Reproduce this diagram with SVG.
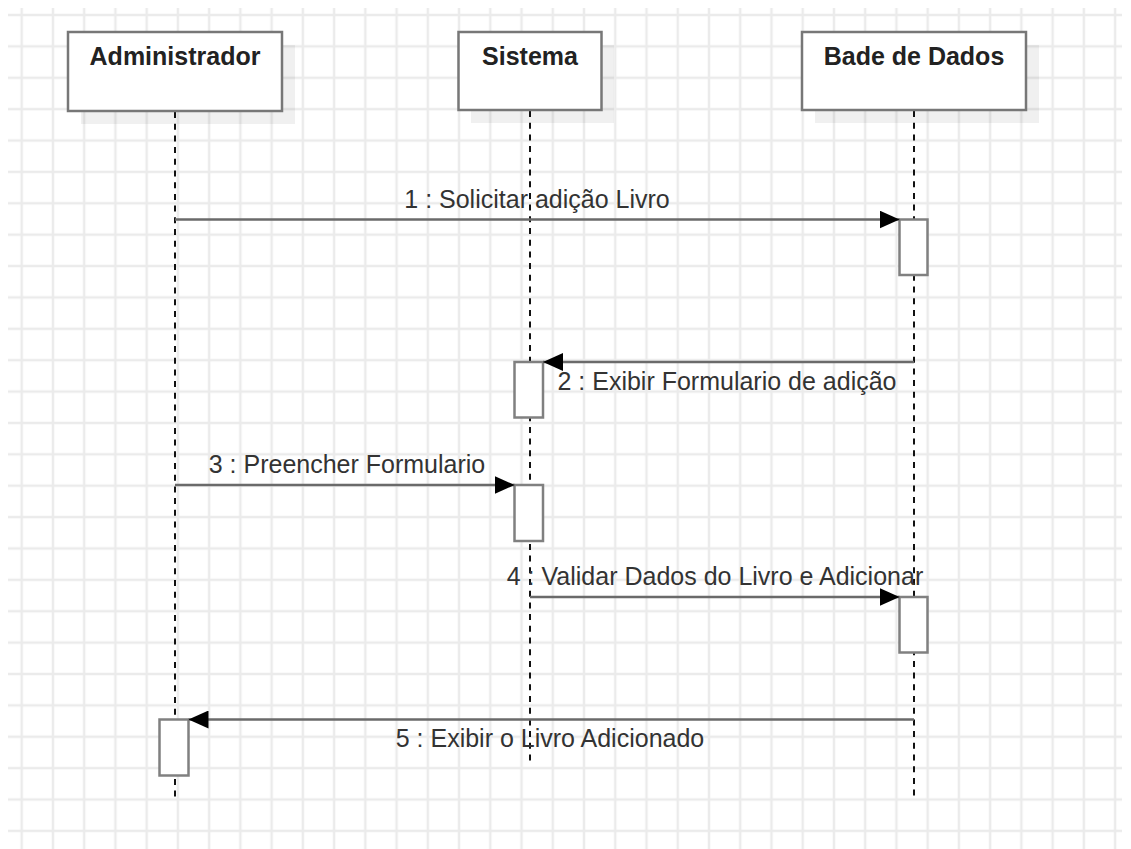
<svg xmlns="http://www.w3.org/2000/svg" width="1131" height="849" viewBox="0 0 1131 849">
  <style>
    .hdr { fill: #ffffff; stroke: #777777; stroke-width: 2.5; }
    .shadow { fill: #000000; fill-opacity: 0.06; }
    .hdrtext { font-family: "Liberation Sans", Arial, sans-serif; font-size: 25px; font-weight: bold; fill: #222222; text-anchor: middle; }
    .life { stroke: #111111; stroke-width: 2; stroke-dasharray: 6 5.7; fill: none; }
    .act { fill: #ffffff; stroke: #808080; stroke-width: 2.5; }
    .msg { stroke: #6a6a6a; stroke-width: 2.5; fill: none; }
    .msgtext { font-family: "Liberation Sans", Arial, sans-serif; font-size: 25px; fill: #333333; text-anchor: middle; }
  </style>
  <defs>
    <pattern id="grid" x="6.08" y="-0.69" width="31.24" height="31.38" patternUnits="userSpaceOnUse">
      <path d="M15.62 0 V31.38 M0 15.69 H31.24" stroke="#ebebeb" stroke-width="2.5" fill="none"/>
    </pattern>
    <marker id="arrow" viewBox="0 0 20 18" refX="20" refY="9" markerWidth="20" markerHeight="18" markerUnits="userSpaceOnUse" orient="auto">
      <path d="M0 0 L20 9 L0 18 Z" fill="#000000"/>
    </marker>
  </defs>
  <rect x="0" y="0" width="1131" height="849" fill="#ffffff"/>
  <rect x="8" y="8" width="1114" height="841" fill="url(#grid)"/>

  <g id="lifelines">
    <line class="life" x1="175" y1="112" x2="175" y2="798"/>
    <line class="life" x1="530" y1="111" x2="530" y2="765"/>
    <line class="life" x1="914" y1="111" x2="914" y2="798"/>
  </g>

  <g id="node-administrador">
    <rect class="shadow" x="81" y="45" width="214" height="79"/>
    <rect class="hdr" x="68" y="32" width="214" height="79"/>
    <text class="hdrtext" x="175" y="65">Administrador</text>
  </g>
  <g id="node-sistema">
    <rect class="shadow" x="471" y="45" width="143" height="78"/>
    <rect class="hdr" x="458.5" y="32" width="143" height="78"/>
    <text class="hdrtext" x="530" y="65">Sistema</text>
  </g>
  <g id="node-banco">
    <rect class="shadow" x="815" y="45" width="224" height="78"/>
    <rect class="hdr" x="802" y="32" width="224" height="78"/>
    <text class="hdrtext" x="914" y="65">Bade de Dados</text>
  </g>

  <g id="activations">
    <rect class="act" x="899.5" y="219.5" width="28" height="55.5"/>
    <rect class="act" x="514.5" y="362" width="28.5" height="55.5"/>
    <rect class="act" x="514.5" y="485" width="28.5" height="56"/>
    <rect class="act" x="899.5" y="597" width="28" height="55.5"/>
    <rect class="act" x="159.5" y="719.5" width="29" height="56"/>
  </g>

  <g id="connectors">
    <line class="msg" x1="175" y1="219.5" x2="899.5" y2="219.5" marker-end="url(#arrow)"/>
    <text class="msgtext" x="537" y="208">1 : Solicitar adição Livro</text>

    <line class="msg" x1="914" y1="362" x2="543" y2="362" marker-end="url(#arrow)"/>
    <text class="msgtext" x="727" y="390">2 : Exibir Formulario de adição</text>

    <line class="msg" x1="175" y1="485" x2="514.5" y2="485" marker-end="url(#arrow)"/>
    <text class="msgtext" x="347" y="473">3 : Preencher Formulario</text>

    <line class="msg" x1="530" y1="597" x2="899.5" y2="597" marker-end="url(#arrow)"/>
    <text class="msgtext" x="715" y="584.5">4 : Validar Dados do Livro e Adicionar</text>

    <line class="msg" x1="914" y1="719.5" x2="188.5" y2="719.5" marker-end="url(#arrow)"/>
    <text class="msgtext" x="550" y="747">5 : Exibir o Livro Adicionado</text>
  </g>
</svg>
